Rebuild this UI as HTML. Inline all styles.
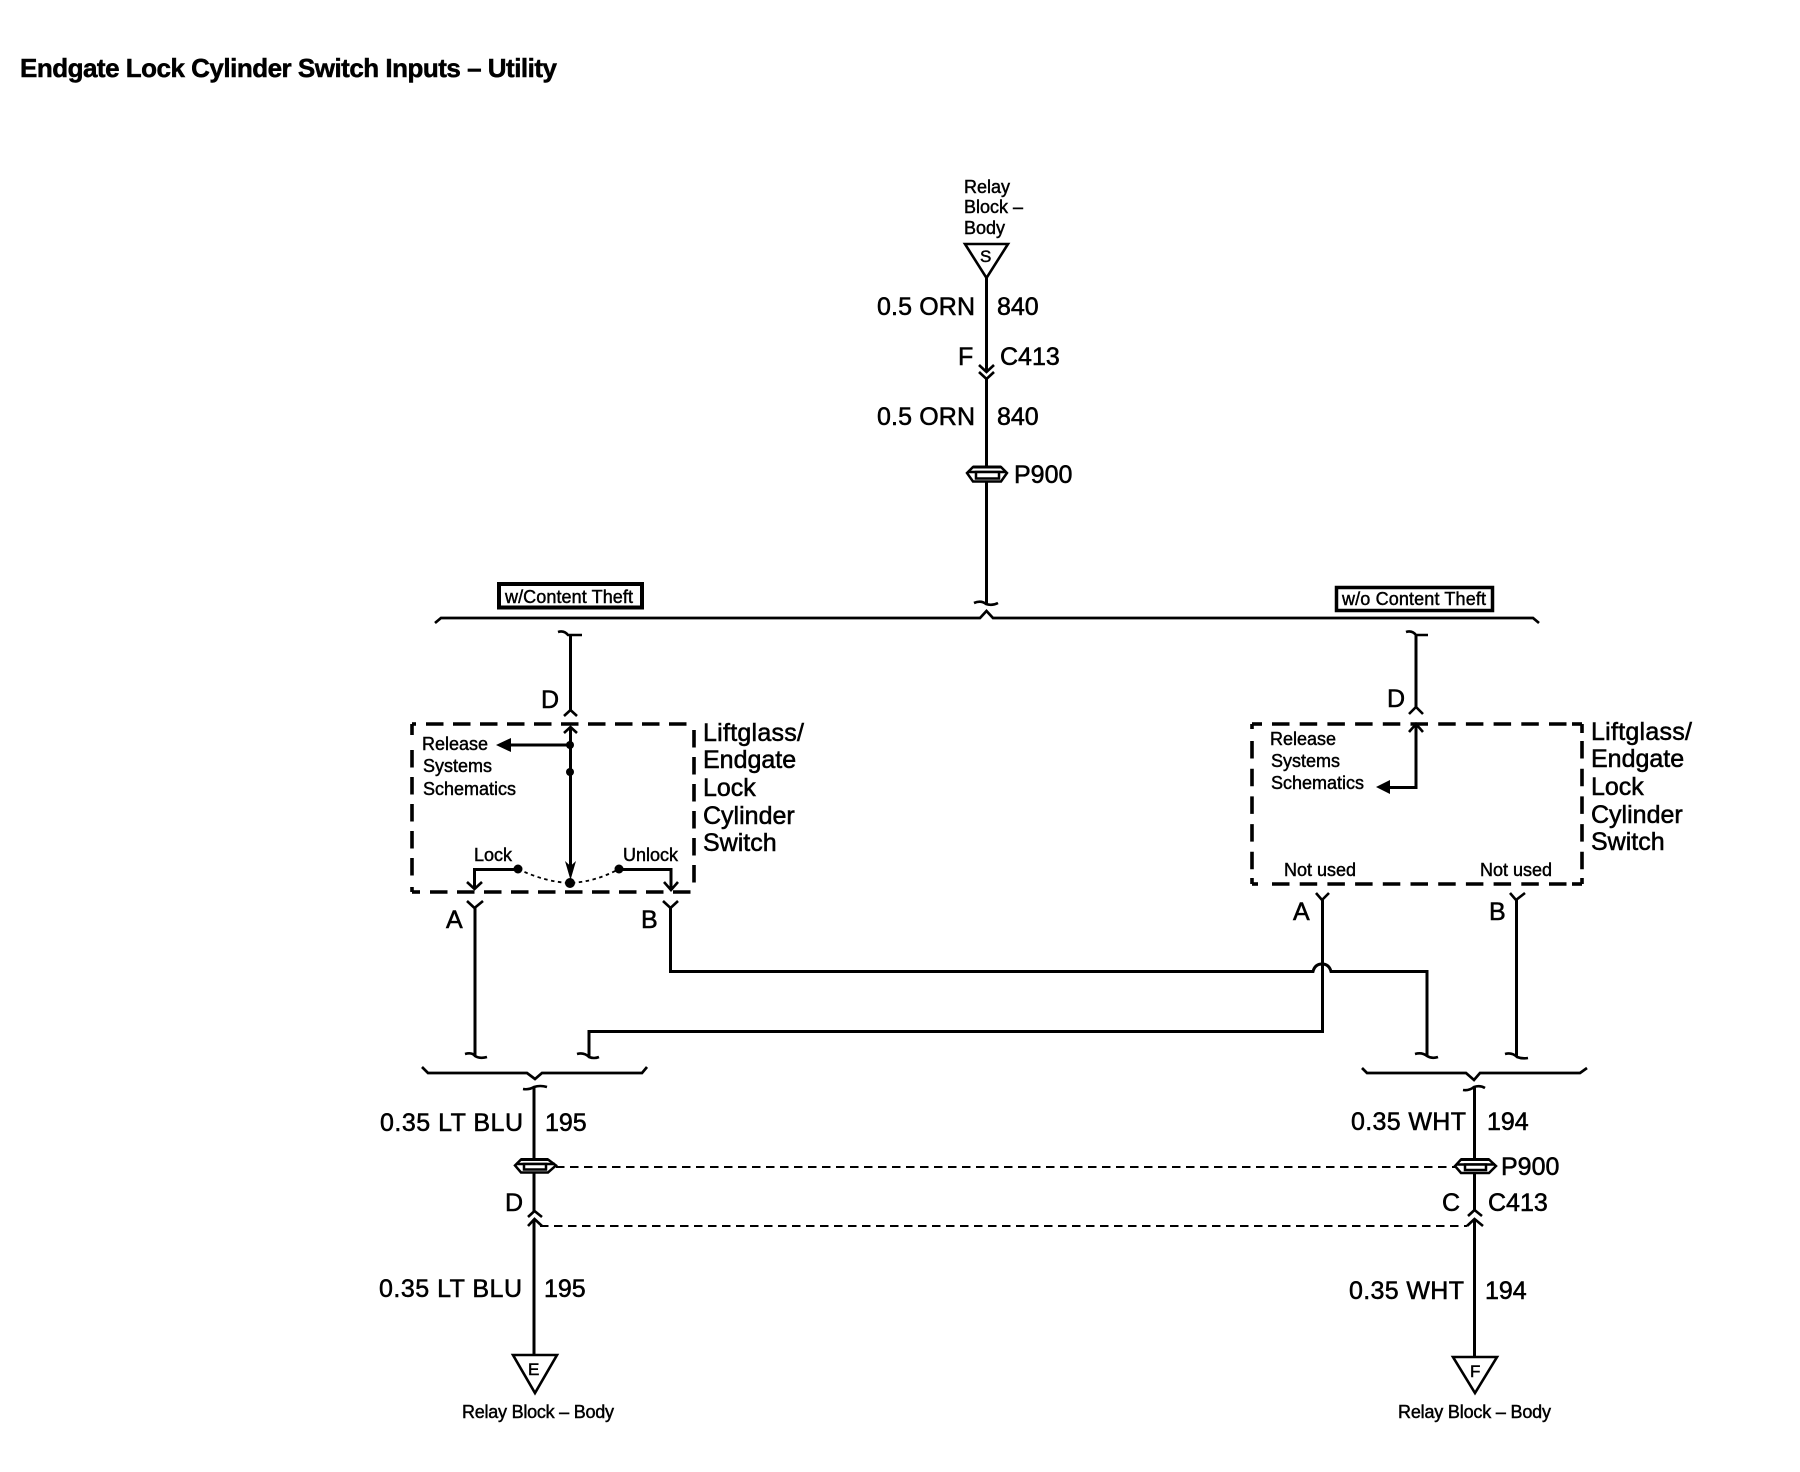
<!DOCTYPE html>
<html><head><meta charset="utf-8"><style>
html,body{margin:0;padding:0;background:#fff}
svg{display:block}
text{font-family:"Liberation Sans",sans-serif;fill:#000;stroke:#000;stroke-width:.5}
.b{font-size:25px;stroke-width:.55}.s{font-size:18px;stroke-width:.45}
.w{fill:none;stroke:#000;stroke-width:3}
.t{fill:none;stroke:#000;stroke-width:2.7}
.c{fill:none;stroke:#000;stroke-width:2.6}
.d{fill:none;stroke:#000;stroke-width:3.6;stroke-dasharray:17.5 9.5}
.e{fill:none;stroke:#000;stroke-width:3.6;stroke-dasharray:17.5 10.2}
.h{fill:none;stroke:#000;stroke-width:2;stroke-dasharray:8.5 5.5}
</style></head><body>
<svg width="1800" height="1472" viewBox="0 0 1800 1472" xmlns="http://www.w3.org/2000/svg">
<rect width="1800" height="1472" fill="#fff"/>
<text x="20" y="77" font-size="26" font-weight="bold" textLength="537" lengthAdjust="spacing">Endgate Lock Cylinder Switch Inputs – Utility</text>

<!-- top feed -->
<text class="s" x="964" y="193">Relay</text>
<text class="s" x="964" y="213">Block –</text>
<text class="s" x="964" y="234">Body</text>
<path class="c" d="M965 244H1008L986.500 278Z"/>
<text x="980" y="262" font-size="17">S</text>
<path class="w" d="M986.500 278V372M986.500 379V604"/>
<path class="c" d="M979 365L986.500 372L994 365M979 372L986.500 379L994 372"/>
<text class="b" x="877" y="315" textLength="98" lengthAdjust="spacing">0.5 ORN</text><text class="b" x="997" y="315">840</text>
<text class="b" x="958" y="365">F</text><text class="b" x="1000" y="365">C413</text>
<text class="b" x="877" y="425" textLength="98" lengthAdjust="spacing">0.5 ORN</text><text class="b" x="997" y="425">840</text>
<path d="M973 467H1001L1007 473L1001 481.500H973L967 473Z" fill="#fff" stroke="#000" stroke-width="2.500"/>
<path d="M968 472H1006" stroke="#000" stroke-width="2.500"/>
<rect x="976" y="472" width="23" height="6.500" fill="#fff" stroke="#000" stroke-width="2.500"/>
<path d="M973 467H1001" stroke="#000" stroke-width="3"/>
<text class="b" x="1014" y="483">P900</text>
<path class="c" d="M974 603Q981 600 986 604Q992 606 998 603"/>

<!-- main bracket -->
<path class="t" d="M435 623L441 618H980L986.500 611L993 618H1533L1539 623"/>
<rect x="499" y="584" width="143" height="23.500" fill="#fff" stroke="#000" stroke-width="4"/>
<text class="s" x="505" y="603" textLength="128" lengthAdjust="spacing">w/Content Theft</text>
<rect x="1336.500" y="587.500" width="156" height="23" fill="#fff" stroke="#000" stroke-width="3.500"/>
<text class="s" x="1342" y="605" textLength="144" lengthAdjust="spacing">w/o Content Theft</text>

<!-- left switch -->
<path class="c" d="M558 632Q564 630 568 635Q574 635 582 635"/>
<path class="w" d="M570.500 634V710"/>
<path class="c" d="M564 716L570.500 710L577 716M564 733L570.500 727L577 733"/>
<text class="b" x="541" y="708">D</text>
<path class="d" d="M426 724H690"/>
<path class="d" d="M412 724H416" style="stroke-dasharray:none"/>
<path class="d" d="M412 724V735" style="stroke-dasharray:none"/>
<path class="d" d="M412 750V885"/>
<path class="d" d="M694 730V885"/>
<path class="d" d="M412 892H420" style="stroke-dasharray:none"/>
<path class="d" d="M412 887V892" style="stroke-dasharray:none"/>
<path class="d" d="M430 892H693"/>
<path class="w" d="M570.500 727V868"/>
<path d="M565 861L570.500 866L576 861L570.500 880Z" fill="#000"/>
<path class="w" d="M511 745H570"/>
<path d="M496 745L511 738V752Z" fill="#000"/>
<circle cx="570" cy="745" r="4"/><circle cx="570" cy="772" r="4"/><circle cx="570" cy="883" r="5"/>
<text class="s" x="422" y="750">Release</text>
<text class="s" x="423" y="772">Systems</text>
<text class="s" x="423" y="795">Schematics</text>
<text class="s" x="474" y="861">Lock</text>
<text class="s" x="623" y="861">Unlock</text>
<circle cx="518" cy="869" r="4.500"/><circle cx="619" cy="869" r="4.500"/>
<path d="M518 869Q545 882 570 883Q595 882 619 869" fill="none" stroke="#000" stroke-width="1.800" stroke-dasharray="3.500 3.500"/>
<path class="w" d="M518 869.500H474.500V888M619 869.500H671V889"/>
<path class="c" d="M467 882L474.500 889L482 882M664 882L671 890L678 882"/>
<text class="b" x="703" y="741" textLength="101" lengthAdjust="spacing">Liftglass/</text>
<text class="b" x="703" y="768">Endgate</text>
<text class="b" x="703" y="796">Lock</text>
<text class="b" x="703" y="824">Cylinder</text>
<text class="b" x="703" y="851">Switch</text>
<path class="c" d="M467 901L474.500 908L483 901M663 901L670.500 908L678 901"/>
<text class="b" x="446" y="928">A</text><text class="b" x="641" y="928">B</text>

<!-- right switch -->
<path class="c" d="M1406 632Q1412 630 1416 635Q1422 635 1428 635"/>
<path class="w" d="M1416 634V707"/>
<path class="c" d="M1409 714L1416 707L1423 714M1409 732L1416 724L1423 732"/>
<text class="b" x="1387" y="707">D</text>
<path class="e" d="M1272 724H1572"/>
<path class="e" d="M1252 724H1262" style="stroke-dasharray:none"/>
<path class="e" d="M1572 724H1582" style="stroke-dasharray:none"/>
<path class="e" d="M1252 724V729" style="stroke-dasharray:none"/>
<path class="e" d="M1582 724V733" style="stroke-dasharray:none"/>
<path class="e" d="M1252 741V875"/>
<path class="e" d="M1582 741V875"/>
<path class="e" d="M1252 878V884" style="stroke-dasharray:none"/>
<path class="e" d="M1582 878V884" style="stroke-dasharray:none"/>
<path class="e" d="M1252 884H1258" style="stroke-dasharray:none"/>
<path class="e" d="M1272 884H1572"/>
<path class="e" d="M1572 884H1582" style="stroke-dasharray:none"/>
<path class="w" d="M1416 724V787.500H1390"/>
<path d="M1376 787L1390 780V794Z" fill="#000"/>
<text class="s" x="1270" y="745">Release</text>
<text class="s" x="1271" y="767">Systems</text>
<text class="s" x="1271" y="789">Schematics</text>
<text class="s" x="1284" y="876">Not used</text>
<text class="s" x="1480" y="876">Not used</text>
<text class="b" x="1591" y="740" textLength="101" lengthAdjust="spacing">Liftglass/</text>
<text class="b" x="1591" y="767">Endgate</text>
<text class="b" x="1591" y="795">Lock</text>
<text class="b" x="1591" y="823">Cylinder</text>
<text class="b" x="1591" y="850">Switch</text>
<path class="c" d="M1316 893L1322 900L1329 893M1510 893L1516 900L1525 893"/>
<text class="b" x="1293" y="920">A</text><text class="b" x="1489" y="920">B</text>

<!-- cross wiring -->
<path class="w" d="M475 908V1056"/>
<path class="w" d="M670.500 908V971.500H1313Q1315 964 1322 964Q1329 964 1331 971.500H1427V1056"/>
<path class="w" d="M1322.500 900V1031.500H589V1056"/>
<path class="w" d="M1516.500 900V1057"/>
<path class="c" d="M465 1054Q472 1052 475 1056Q480 1059 487 1057"/>
<path class="c" d="M577 1054Q584 1052 589 1057Q594 1059 599 1057"/>
<path class="c" d="M1415 1054Q1422 1052 1427 1056Q1432 1059 1438 1057"/>
<path class="c" d="M1505 1054Q1512 1052 1517 1057Q1522 1059 1528 1058"/>

<!-- lower brackets -->
<path class="t" d="M422 1067L428 1073H527L535 1079L542 1073H642L647 1067"/>
<path class="t" d="M1362 1068L1367 1073H1466L1474 1080L1480 1073H1580L1587 1068"/>
<path class="c" d="M523 1089Q529 1090 534 1087Q540 1085 547 1087"/>
<path class="c" d="M1463 1090Q1469 1091 1474 1087Q1480 1085 1485 1088"/>

<!-- lower left -->
<path class="w" d="M534 1087V1211M534 1219V1355"/>
<text class="b" x="380" y="1131" textLength="143" lengthAdjust="spacing">0.35 LT BLU</text>
<text class="b" x="545" y="1131">195</text>
<path d="M521 1159.500H548L556 1165.500L548 1172.500H521L515 1165.500Z" fill="#fff" stroke="#000" stroke-width="2.500"/>
<path d="M516 1164H555" stroke="#000" stroke-width="2.500"/>
<rect x="524" y="1164" width="22" height="5.500" fill="#fff" stroke="#000" stroke-width="2.500"/>
<path d="M521 1159.500H548" stroke="#000" stroke-width="3"/>
<path class="h" d="M556 1167H1455"/>
<path class="h" d="M540 1226H1467"/>
<path class="c" d="M528 1217L534.500 1211L542 1217M528 1226L534.500 1219L542 1226"/>
<text class="b" x="505" y="1211">D</text>
<text class="b" x="379" y="1297" textLength="143" lengthAdjust="spacing">0.35 LT BLU</text>
<text class="b" x="544" y="1297">195</text>
<path class="c" d="M513 1355H557L535 1393Z"/>
<text x="528" y="1375" font-size="17">E</text>
<text class="s" x="462" y="1418" textLength="152" lengthAdjust="spacing">Relay Block – Body</text>

<!-- lower right -->
<path class="w" d="M1474.500 1087V1211M1474.500 1219V1357"/>
<text class="b" x="1351" y="1130" textLength="115" lengthAdjust="spacing">0.35 WHT</text>
<text class="b" x="1487" y="1130">194</text>
<path d="M1461 1159.500H1489L1496 1166L1489 1173H1461L1455 1166Z" fill="#fff" stroke="#000" stroke-width="2.500"/>
<path d="M1456 1164.500H1495" stroke="#000" stroke-width="2.500"/>
<rect x="1465" y="1164.500" width="21" height="5.500" fill="#fff" stroke="#000" stroke-width="2.500"/>
<path d="M1461 1159.500H1489" stroke="#000" stroke-width="3"/>
<text class="b" x="1501" y="1175">P900</text>
<path class="c" d="M1468 1216L1474.500 1210L1482 1216M1467 1226L1474.500 1219L1483 1226"/>
<text class="b" x="1442" y="1211">C</text>
<text class="b" x="1488" y="1211">C413</text>
<text class="b" x="1349" y="1299" textLength="115" lengthAdjust="spacing">0.35 WHT</text>
<text class="b" x="1485" y="1299">194</text>
<path class="c" d="M1453 1357H1497L1475 1393Z"/>
<text x="1470" y="1377" font-size="17">F</text>
<text class="s" x="1398" y="1418" textLength="153" lengthAdjust="spacing">Relay Block – Body</text>
</svg>
</body></html>
